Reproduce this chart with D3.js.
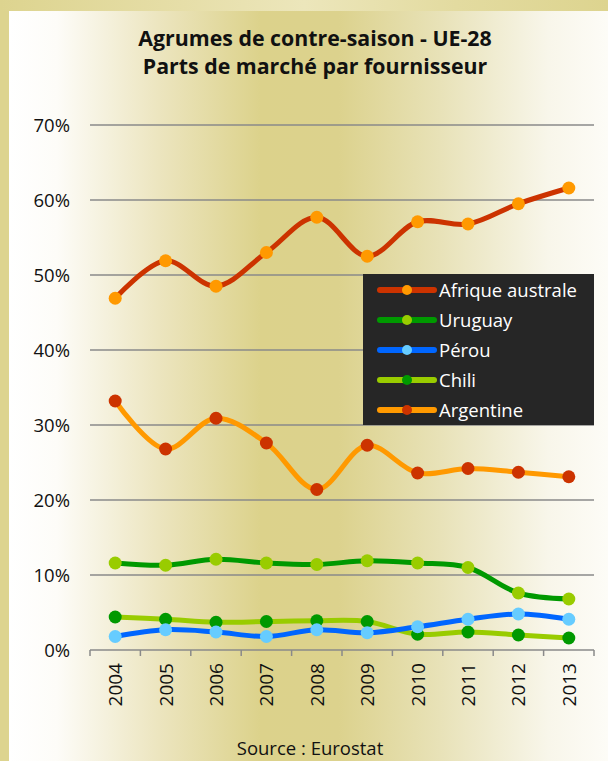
<!DOCTYPE html>
<html><head><meta charset="utf-8">
<script src="https://cdn.jsdelivr.net/npm/d3@7"></script>
<style>html,body{margin:0;padding:0;background:#fff}svg{display:block}</style>
</head><body>
<script>
const years = ["2004","2005","2006","2007","2008","2009","2010","2011","2012","2013"];
const seriesNames = ["Afrique australe","Uruguay","Pérou","Chili","Argentine"];
const afriqueAustrale = [46.9,51.9,48.5,53.0,57.7,52.5,57.1,56.8,59.5,61.6];
const uruguay = [11.6,11.3,12.1,11.6,11.4,11.9,11.6,11.0,7.6,6.8];
const perou = [1.8,2.7,2.4,1.8,2.7,2.3,3.1,4.1,4.8,4.1];
const chili = [4.4,4.1,3.7,3.8,3.9,3.8,2.1,2.4,2.0,1.6];
const argentine = [33.2,26.8,30.9,27.6,21.4,27.3,23.6,24.2,23.7,23.1];
const yTicks = [0,10,20,30,40,50,60,70];
const lineColors = ["#cc3300","#009900","#0066ff","#99cc00","#ff9900"];
const markerColors = ["#ff9900","#99cc00","#66ccff","#009900","#cc3300"];
const seriesValues = [afriqueAustrale,uruguay,perou,chili,argentine];

(function(){
const W=608,H=761;
const FONT="'Open Sans', sans-serif";
const svg=d3.select("body").append("svg").attr("width",W).attr("height",H);
const defs=svg.append("defs");
const g1=defs.append("linearGradient").attr("id","bg").attr("x1","0").attr("x2","1").attr("y1","0").attr("y2","0");
[[0,"#ffffff"],[0.08,"#fdfcf8"],[0.25,"#ece5bf"],[0.42,"#dcd28b"],[0.55,"#dcd28d"],[0.72,"#e8e2b8"],[0.9,"#f8f6ea"],[1,"#fdfcf7"]]
  .forEach(([o,c])=>g1.append("stop").attr("offset",o).attr("stop-color",c));
const g2=defs.append("linearGradient").attr("id","topg").attr("x1","0").attr("x2","1").attr("y1","0").attr("y2","0");
[[0,"#ddd48f"],[0.3,"#e6dea8"],[0.5,"#ece6bb"],[0.75,"#e3dba0"],[1,"#ddd48f"]]
  .forEach(([o,c])=>g2.append("stop").attr("offset",o).attr("stop-color",c));

svg.append("rect").attr("x",0).attr("y",0).attr("width",W).attr("height",H).attr("fill","#ddd48f");
svg.append("rect").attr("x",0).attr("y",0).attr("width",W).attr("height",11).attr("fill","url(#topg)");
svg.append("rect").attr("x",9).attr("y",11).attr("width",W-9).attr("height",H-11).attr("fill","url(#bg)");

const title=svg.append("g").attr("transform","translate(315,0) scale(0.97,1)")
  .append("text").attr("text-anchor","middle").attr("font-family",FONT)
  .attr("font-weight","bold").attr("font-size",22).attr("fill","#111");
title.append("tspan").attr("x",0).attr("y",46).text("Agrumes de contre-saison - UE-28");
title.append("tspan").attr("x",0).attr("y",74).text("Parts de marché par fournisseur");

const pl=90,pr=594,pt=125,pb=650;
const x=d3.scaleBand().domain(years).range([pl,pr]);
const y=d3.scaleLinear().domain([0,70]).range([pb,pt]);

svg.append("g").selectAll("line").data(yTicks.filter(d=>d>0)).join("line")
  .attr("x1",pl).attr("x2",pr).attr("y1",d=>y(d)).attr("y2",d=>y(d))
  .attr("stroke","#8a8a8a").attr("stroke-width",1.5);

svg.append("g").selectAll("text").data(yTicks).join("text")
  .attr("x",70).attr("y",d=>y(d)).attr("dy","0.36em").attr("text-anchor","end")
  .attr("font-family",FONT).attr("font-size",18.5).attr("fill","#111")
  .text(d=>d+"%");

const xAxis=svg.append("g").attr("transform",`translate(0,${pb})`);
xAxis.append("line").attr("x1",pl).attr("x2",pr).attr("y1",0).attr("y2",0).attr("stroke","#8a8a8a").attr("stroke-width",1.5);
const bounds=years.map(d=>x(d)).concat([x(years[years.length-1])+x.bandwidth()]);
xAxis.selectAll("line.tk").data(bounds).join("line").attr("class","tk")
  .attr("x1",d=>d).attr("x2",d=>d).attr("y1",0).attr("y2",6).attr("stroke","#8a8a8a").attr("stroke-width",1.5);
xAxis.selectAll("text").data(years).join("text")
  .attr("transform",d=>`translate(${x(d)+x.bandwidth()/2+7},13) rotate(-90)`)
  .attr("text-anchor","end").attr("font-family",FONT).attr("font-size",19).attr("fill","#111")
  .text(d=>d);

const line=d3.line().x((d,i)=>x(years[i])+x.bandwidth()/2).y(d=>y(d)).curve(d3.curveCatmullRom.alpha(0.5));
const order=[0,4,1,3,2];
order.forEach(k=>{
  svg.append("path").attr("d",line(seriesValues[k])).attr("fill","none")
    .attr("stroke",lineColors[k]).attr("stroke-width",5).attr("stroke-linejoin","round").attr("stroke-linecap","round");
});
order.forEach(k=>{
  svg.append("g").selectAll("circle").data(seriesValues[k]).join("circle")
    .attr("cx",(d,i)=>x(years[i])+x.bandwidth()/2).attr("cy",d=>y(d)).attr("r",6.5).attr("fill",markerColors[k]);
});

const lg=svg.append("g");
lg.append("rect").attr("x",363).attr("y",274).attr("width",231).attr("height",151).attr("fill","#262626");
seriesNames.forEach((n,i)=>{
  const yy=290+i*30;
  lg.append("line").attr("x1",380).attr("x2",434).attr("y1",yy).attr("y2",yy)
    .attr("stroke",lineColors[i]).attr("stroke-width",6).attr("stroke-linecap","round");
  lg.append("circle").attr("cx",407).attr("cy",yy).attr("r",5).attr("fill",markerColors[i]);
  lg.append("text").attr("x",439).attr("y",yy).attr("dy","0.36em").attr("fill","#fff")
    .attr("font-family",FONT).attr("font-size",18.5).text(n);
});

svg.append("text").attr("x",310).attr("y",755).attr("text-anchor","middle")
  .attr("font-family",FONT).attr("font-size",18.5).attr("fill","#111").text("Source : Eurostat");
})();
</script>
</body></html>
